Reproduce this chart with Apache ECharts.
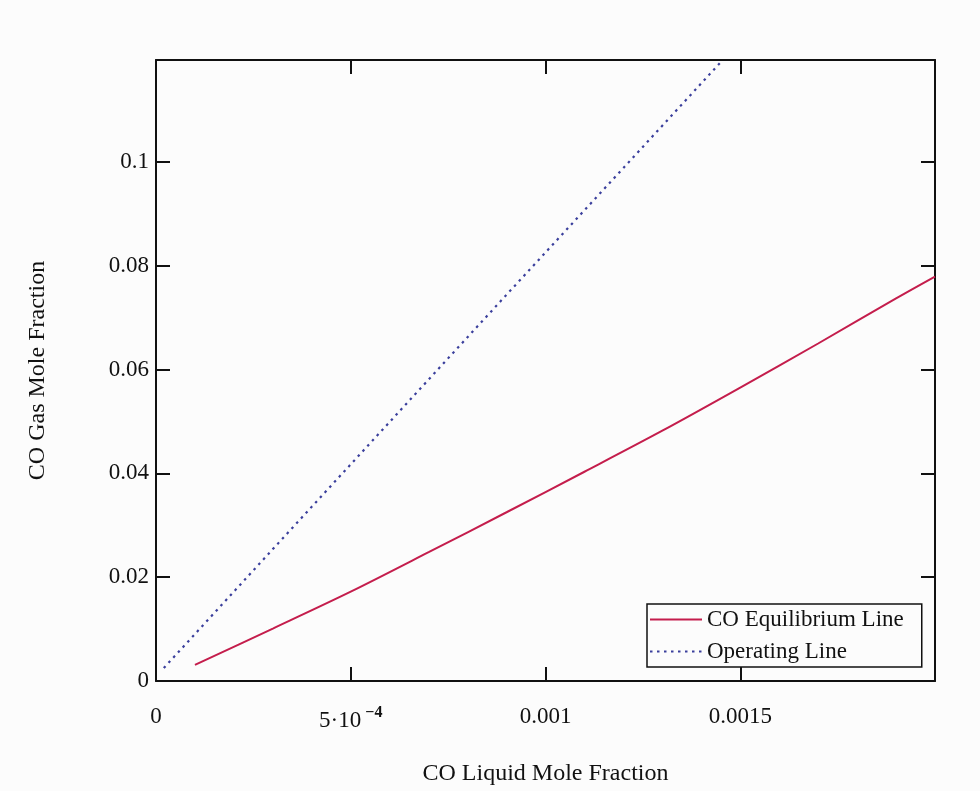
<!DOCTYPE html>
<html>
<head>
<meta charset="utf-8">
<script src="https://cdn.jsdelivr.net/npm/echarts@6/dist/echarts.min.js"></script>
<style>
html,body{margin:0;padding:0;background:#fcfcfc;}
#chart{width:980px;height:791px;}
</style>
</head>
<body>
<div id="chart"></div>
<script>
// Data
var eqX = [0.0001, 0.0003, 0.0005, 0.0007, 0.0009, 0.0011, 0.0013, 0.0015, 0.0017, 0.0019, 0.002];
var eqY = [0.0031, 0.0101, 0.0172, 0.0248, 0.0325, 0.0403, 0.0482, 0.0565, 0.0650, 0.0737, 0.0779];
var opX = [0.00002, 0.0003, 0.0006, 0.0009, 0.0012, 0.001455];
var opY = [0.0025, 0.0254, 0.0499, 0.0744, 0.0988, 0.1196];
var xTicks = [0, 0.0005, 0.001, 0.0015];
var yTicks = [0, 0.02, 0.04, 0.06, 0.08, 0.1];
var seriesNames = ['CO Equilibrium Line', 'Operating Line'];
var xTitle = 'CO Liquid Mole Fraction';
var yTitle = 'CO Gas Mole Fraction';
var xMax = 0.002, yMax = 0.1196;

function zip(a, b) { return a.map(function (v, i) { return [v, b[i]]; }); }
function near(v, arr) { for (var i = 0; i < arr.length; i++) { if (Math.abs(v - arr[i]) < 1e-9) return i; } return -1; }

var FONT = 'Liberation Serif';
var chart = echarts.init(document.getElementById('chart'));
var axisLine = { show: true, onZero: false, lineStyle: { color: '#111', width: 2 } };
var tick = { show: true, inside: true, length: 14, lineStyle: { color: '#111', width: 2 } };

chart.setOption({
  backgroundColor: '#fcfcfc',
  animation: false,
  grid: { left: 156, top: 60, width: 779, height: 624 },
  legend: {
    left: 647, top: 604,
    orient: 'vertical',
    itemWidth: 52, itemHeight: 24, itemGap: 9,
    padding: [4, 18, 4, 2],
    borderColor: '#111', borderWidth: 1.5,
    backgroundColor: '#fcfcfc',
    itemStyle: { opacity: 0 },
    textStyle: { fontFamily: FONT, fontSize: 23, color: '#111' },
    data: seriesNames
  },
  xAxis: [{
    type: 'value', position: 'bottom', min: 0, max: xMax, interval: 0.0005,
    axisLine: axisLine, axisTick: tick, splitLine: { show: false },
    axisLabel: {
      margin: 24, fontFamily: FONT, fontSize: 23, color: '#111',
      formatter: function (v) {
        var i = near(v, xTicks);
        if (i < 0) return '';
        if (i === 1) return '{a|5·10}{b|−4}';
        return String(xTicks[i]);
      },
      rich: {
        a: { fontFamily: FONT, fontSize: 23, color: '#111' },
        b: { fontFamily: FONT, fontSize: 16, color: '#111', fontWeight: 'bold', padding: [0, 0, 16, 4] }
      }
    },
    name: xTitle, nameLocation: 'middle', nameGap: 81,
    nameTextStyle: { fontFamily: FONT, fontSize: 24, color: '#111' }
  }, {
    type: 'value', position: 'top', min: 0, max: xMax, interval: 0.0005,
    axisLine: axisLine, axisTick: tick, axisLabel: { show: false }, splitLine: { show: false }
  }],
  yAxis: [{
    type: 'value', position: 'left', min: 0, max: yMax, interval: 0.02,
    axisLine: axisLine, axisTick: tick, splitLine: { show: false },
    axisLabel: {
      margin: 7, fontFamily: FONT, fontSize: 23, color: '#111', showMaxLabel: false,
      formatter: function (v) { var i = near(v, yTicks); return i < 0 ? '' : String(yTicks[i]); }
    },
    name: yTitle, nameLocation: 'middle', nameGap: 106,
    nameTextStyle: { fontFamily: FONT, fontSize: 24, color: '#111' }
  }, {
    type: 'value', position: 'right', min: 0, max: yMax, interval: 0.02,
    axisLine: axisLine, axisTick: tick, axisLabel: { show: false }, splitLine: { show: false }
  }],
  series: [{
    name: seriesNames[0], type: 'line', symbol: 'none', smooth: 0.3,
    xAxisIndex: 0, yAxisIndex: 0,
    lineStyle: { color: '#c41d4c', width: 2 }, itemStyle: { color: '#c41d4c' },
    data: zip(eqX, eqY)
  }, {
    name: seriesNames[1], type: 'line', symbol: 'none',
    xAxisIndex: 0, yAxisIndex: 0,
    lineStyle: { color: '#3a3f9c', width: 2.2, type: [2.5, 4.5] }, itemStyle: { color: '#3a3f9c' },
    data: zip(opX, opY)
  }]
});
</script>
</body>
</html>
